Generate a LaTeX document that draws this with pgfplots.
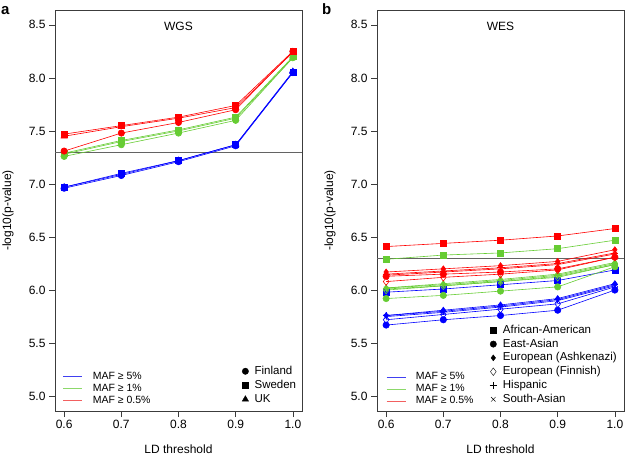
\documentclass[border=0pt]{standalone}
\usepackage{pgfplots}
\usepackage{pgfplotstable}
\pgfplotsset{compat=1.18}
\usepackage{fontspec}
\setmainfont{Liberation Sans}

\definecolor{mafblue}{HTML}{0000FF}
\definecolor{mafgreen}{HTML}{66CC33}
\definecolor{mafred}{HTML}{FF0000}
\definecolor{legblue}{HTML}{4040F0}
\definecolor{leggreen}{HTML}{8CD86A}
\definecolor{legred}{HTML}{F26060}
\definecolor{frame}{HTML}{3C3C3C}

% WGS: fi = Finland, se = Sweden, uk = UK; b/g/r = MAF 5%, 1%, 0.5%
\pgfplotstableread{
ld  fib  fig  fir  seb  seg  ser  ukb  ukg  ukr
0.6 6.96 7.26 7.31 6.97 7.29 7.47 6.97 7.28 7.45
0.7 7.08 7.37 7.48 7.10 7.41 7.55 7.09 7.40 7.54
0.8 7.21 7.48 7.58 7.22 7.51 7.63 7.22 7.50 7.62
0.9 7.36 7.60 7.70 7.37 7.63 7.74 7.37 7.62 7.72
1.0 8.05 8.19 8.25 8.05 8.20 8.25 8.06 8.19 8.24
}\wgs

% WES: aa African-American, ea East-Asian, aj Ashkenazi, fi Finnish, hi Hispanic, sa South-Asian
\pgfplotstableread{
ld  aab  aag  aar  eab  eag  ear  ajb  ajg  ajr  fib  fig  fir  hib  hig  hir  sab  sag  sar
0.6 5.98 6.29 6.41 5.67 5.92 6.13 5.76 6.02 6.17 5.72 6.00 6.08 5.76 6.02 6.15 5.75 6.01 6.14
0.7 6.01 6.33 6.44 5.72 5.95 6.15 5.81 6.06 6.20 5.77 6.04 6.12 5.80 6.05 6.18 5.79 6.04 6.17
0.8 6.05 6.35 6.47 5.76 5.99 6.17 5.86 6.10 6.23 5.82 6.08 6.15 5.85 6.09 6.21 5.84 6.08 6.20
0.9 6.09 6.39 6.51 5.81 6.03 6.20 5.92 6.15 6.27 5.87 6.12 6.19 5.91 6.14 6.25 5.90 6.13 6.24
1.0 6.19 6.47 6.58 6.00 6.22 6.31 6.06 6.26 6.38 6.03 6.24 6.31 6.05 6.25 6.35 6.04 6.24 6.34
}\wes

\pgfplotsset{
  panel/.style={
    scale only axis, width=247pt, height=401pt,
    xmin=0.584, xmax=1.016, ymin=4.86, ymax=8.64,
    xtick={0.6,0.7,0.8,0.9,1.0}, xticklabels={0.6,0.7,0.8,0.9,1.0},
    ytick={5,5.5,6,6.5,7,7.5,8,8.5},
    yticklabels={5.0,5.5,6.0,6.5,7.0,7.5,8.0,8.5},
    xtick pos=bottom, ytick pos=left,
    tick align=outside, major tick length=6pt,
    tick style={frame, line width=0.5pt},
    axis line style={frame, line width=0.6pt},
    tick label style={font=\fontsize{12}{14}\selectfont},
    xlabel={LD threshold}, ylabel={-log10(p-value)},
    label style={font=\fontsize{12}{14}\selectfont},
    xlabel style={at={(axis description cs:0.5,-0.095)}, anchor=center},
    ylabel style={at={(axis description cs:-0.19,0.5)}, anchor=center},
    clip=false,
  },
  blank/.style={
    scale only axis, width=247pt, height=401pt,
    xmin=0.584, xmax=1.016, ymin=4.86, ymax=8.64, hide axis},
  mblue/.style={mafblue, line width=0.6pt, mark options={solid, fill=mafblue}},
  mgreen/.style={mafgreen, line width=0.6pt, mark options={solid, fill=mafgreen}},
  mred/.style={mafred, line width=0.6pt, mark options={solid, fill=mafred}},
  sq/.style={mark=square*, mark size=3pt},
  ci/.style={mark=*, mark size=3.2pt},
  tr/.style={mark=triangle*, mark size=3.6pt},
  dm/.style={mark=diamond*, mark size=3pt},
  dh/.style={mark=diamond, mark size=3.8pt},
  pl/.style={mark=+, mark size=3.6pt},
  xx/.style={mark=x, mark size=3.2pt},
  mafleg/.style={
    legend style={draw=none, fill=none, inner sep=0pt,
      font=\fontsize{10.5}{12}\selectfont,
      nodes={inner sep=0pt, text height=8pt, text depth=2.5pt},
      row sep=1.5pt, /tikz/every odd column/.append style={column sep=10pt}},
    legend cell align=left,
  },
  popleg/.style={
    legend style={draw=none, fill=none, inner sep=0pt,
      font=\fontsize{11.5}{14}\selectfont,
      nodes={inner sep=0pt, text height=9pt, text depth=3pt},
      row sep=#1, /tikz/every odd column/.append style={column sep=6pt}},
    legend cell align=left,
    legend image code/.code={\draw[##1] plot coordinates {(0pt,0pt)};},
  },
}

\begin{document}
\begin{tikzpicture}
\useasboundingbox (0,0) rectangle (626pt,455pt);

% ---------------- panel a: WGS ----------------
\begin{axis}[panel, at={(55pt,44pt)}, anchor=south west]
\addplot[color=frame!80, line width=0.7pt] coordinates {(0.584,7.30) (1.016,7.30)};
\addplot[mblue, ci] table[x=ld, y=fib] {\wgs};
\addplot[mblue, sq] table[x=ld, y=seb] {\wgs};
\addplot[mblue, tr] table[x=ld, y=ukb] {\wgs};
\addplot[mgreen, ci] table[x=ld, y=fig] {\wgs};
\addplot[mgreen, sq] table[x=ld, y=seg] {\wgs};
\addplot[mgreen, tr] table[x=ld, y=ukg] {\wgs};
\addplot[mred, ci] table[x=ld, y=fir] {\wgs};
\addplot[mred, sq] table[x=ld, y=ser] {\wgs};
\addplot[mred, tr] table[x=ld, y=ukr] {\wgs};
\node[font=\fontsize{12}{14}\selectfont] at (axis description cs:0.5,0.96) {WGS};
\node[font=\bfseries\fontsize{15}{15}\selectfont, inner sep=0pt, anchor=base west]
  at (axis description cs:-0.2186,0.99) {a};
\end{axis}

% ---------------- panel b: WES ----------------
\begin{axis}[panel, at={(377pt,44pt)}, anchor=south west]
\addplot[color=frame!80, line width=0.7pt] coordinates {(0.584,6.30) (1.016,6.30)};
\addplot[mblue, sq] table[x=ld, y=aab] {\wes};
\addplot[mblue, ci] table[x=ld, y=eab] {\wes};
\addplot[mblue, dm] table[x=ld, y=ajb] {\wes};
\addplot[mblue, dh] table[x=ld, y=fib] {\wes};
\addplot[mblue, pl] table[x=ld, y=hib] {\wes};
\addplot[mblue, xx] table[x=ld, y=sab] {\wes};
\addplot[mgreen, sq] table[x=ld, y=aag] {\wes};
\addplot[mgreen, ci] table[x=ld, y=eag] {\wes};
\addplot[mgreen, dm] table[x=ld, y=ajg] {\wes};
\addplot[mgreen, dh] table[x=ld, y=fig] {\wes};
\addplot[mgreen, pl] table[x=ld, y=hig] {\wes};
\addplot[mgreen, xx] table[x=ld, y=sag] {\wes};
\addplot[mred, sq] table[x=ld, y=aar] {\wes};
\addplot[mred, ci] table[x=ld, y=ear] {\wes};
\addplot[mred, dm] table[x=ld, y=ajr] {\wes};
\addplot[mred, dh] table[x=ld, y=fir] {\wes};
\addplot[mred, pl] table[x=ld, y=hir] {\wes};
\addplot[mred, xx] table[x=ld, y=sar] {\wes};
\node[font=\fontsize{12}{14}\selectfont] at (axis description cs:0.5,0.96) {WES};
\node[font=\bfseries\fontsize{15}{15}\selectfont, inner sep=0pt, anchor=base west]
  at (axis description cs:-0.2227,0.99) {b};
\end{axis}

% ---------------- MAF legends (both framed on panel a's box) ----------------
\begin{axis}[blank, at={(55pt,44pt)}, anchor=south west, mafleg,
  legend style={at={(axis description cs:0.032,0.10)}, anchor=north west},
  legend image code/.code={\draw[#1] (0pt,0pt) -- (19pt,0pt);}]
\addlegendimage{draw=legblue, line width=0.7pt}\addlegendentry{MAF ≥ 5\%}
\addlegendimage{draw=leggreen, line width=0.7pt}\addlegendentry{MAF ≥ 1\%}
\addlegendimage{draw=legred, line width=0.7pt}\addlegendentry{MAF ≥ 0.5\%}
\end{axis}
\begin{axis}[blank, at={(55pt,44pt)}, anchor=south west, mafleg,
  legend style={at={(axis description cs:1.340,0.098)}, anchor=north west},
  legend image code/.code={\draw[#1] (0pt,0pt) -- (19pt,0pt);}]
\addlegendimage{draw=legblue, line width=0.7pt}\addlegendentry{MAF ≥ 5\%}
\addlegendimage{draw=leggreen, line width=0.7pt}\addlegendentry{MAF ≥ 1\%}
\addlegendimage{draw=legred, line width=0.7pt}\addlegendentry{MAF ≥ 0.5\%}
\end{axis}

% ---------------- symbol legends ----------------
\begin{axis}[blank, at={(55pt,44pt)}, anchor=south west, popleg=2pt,
  legend style={at={(axis description cs:0.757,0.1145)}, anchor=north west}]
\addlegendimage{black, mark=*, mark size=3.2pt}\addlegendentry{Finland}
\addlegendimage{black, mark=square*, mark size=3pt}\addlegendentry{Sweden}
\addlegendimage{black, mark=triangle*, mark size=3.6pt}\addlegendentry{UK}
\end{axis}
\begin{axis}[blank, at={(377pt,44pt)}, anchor=south west, popleg=1.8pt,
  legend style={at={(axis description cs:0.4555,0.2167)}, anchor=north west}]
\addlegendimage{black, mark=square*, mark size=3pt}\addlegendentry{African-American}
\addlegendimage{black, mark=*, mark size=3.2pt}\addlegendentry{East-Asian}
\addlegendimage{black, mark=diamond*, mark size=3pt}\addlegendentry{European (Ashkenazi)}
\addlegendimage{black, mark=diamond, mark size=3.8pt}\addlegendentry{European (Finnish)}
\addlegendimage{black, mark=+, mark size=3.6pt}\addlegendentry{Hispanic}
\addlegendimage{black, mark=x, mark size=3.2pt}\addlegendentry{South-Asian}
\end{axis}
\end{tikzpicture}
\end{document}
